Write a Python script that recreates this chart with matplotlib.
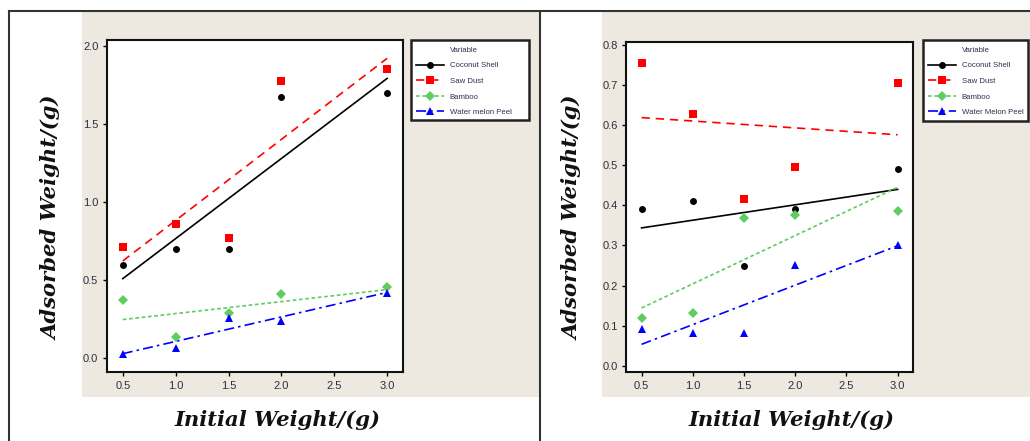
import matplotlib.pyplot as plt
from matplotlib.patches import Rectangle
from matplotlib.lines import Line2D
import numpy as np

x = np.array([0.5, 1.0, 1.5, 2.0, 3.0])
names = ['Coconut Shell', 'Saw Dust', 'Bamboo', 'Water melon Peel']
names_right = ['Coconut Shell', 'Saw Dust', 'Bamboo', 'Water Melon Peel']

# left panel
left_coconut = [0.60, 0.70, 0.70, 1.67, 1.70]
left_sawdust = [0.715, 0.86, 0.77, 1.775, 1.85]
left_bamboo = [0.37, 0.135, 0.29, 0.41, 0.455]
left_melon = [0.03, 0.064, 0.26, 0.24, 0.416]

# right panel
right_coconut = [0.39, 0.41, 0.25, 0.39, 0.49]
right_sawdust = [0.755, 0.627, 0.417, 0.495, 0.705]
right_bamboo = [0.12, 0.131, 0.368, 0.377, 0.387]
right_melon = [0.091, 0.083, 0.083, 0.251, 0.301]

xticks = [0.5, 1.0, 1.5, 2.0, 2.5, 3.0]
left_yticks = [0.0, 0.5, 1.0, 1.5, 2.0]
right_yticks = [0.0, 0.1, 0.2, 0.3, 0.4, 0.5, 0.6, 0.7, 0.8]

colors = ['black', '#ff0000', '#5fcc5f', '#0000ff']
markers = ['o', 's', 'D', '^']
msizes = [5.0, 5.5, 4.6, 5.8]
lstyles = ['-', (0, (5, 3.5)), (0, (2.2, 1.6)), (0, (6, 2.5, 1.5, 2.5))]

beige = '#ede9e0'
tick_col = '#2e2e40'

fig = plt.figure(figsize=(10.30, 4.41), dpi=100)
W, H = 1030.0, 441.0


def fx(px):
    return px / W


def fy(py):
    return 1 - py / H


# outer frames and beige backgrounds
fig.add_artist(Line2D([fx(9), 1], [fy(10.5), fy(10.5)], color='#333333', lw=1.5))
fig.add_artist(Line2D([fx(9), fx(9)], [fy(10.5), 0], color='#333333', lw=1.5))
fig.add_artist(Line2D([fx(540), fx(540)], [fy(10.5), 0], color='#333333', lw=1.5))
fig.add_artist(Rectangle((fx(82), fy(397)), fx(539 - 82), (397 - 12) / H,
                         facecolor=beige, edgecolor='none', zorder=0))
fig.add_artist(Rectangle((fx(602), fy(397)), fx(1030 - 602), (397 - 12) / H,
                         facecolor=beige, edgecolor='none', zorder=0))


def panel(rect, series, labels, ylim, yticks, ylab_x, xlab_x, leg_box):
    ax = fig.add_axes(rect)
    ax.set_facecolor('white')
    handles = []
    for ys, c, m, ms, ls, lab in zip(series, colors, markers, msizes, lstyles, labels):
        ax.plot(x, ys, linestyle='none', marker=m, color=c, markersize=ms,
                markeredgewidth=0, zorder=3)
        k, b = np.polyfit(x, ys, 1)
        ax.plot([x[0], x[-1]], [k * x[0] + b, k * x[-1] + b], color=c,
                linestyle=ls, lw=1.2, zorder=2)
        handles.append(Line2D([], [], color=c, linestyle=ls, lw=1.2, marker=m,
                              markersize=ms, markeredgewidth=0, label=lab))
    ax.set_xlim(0.348, 3.147)
    ax.set_ylim(*ylim)
    ax.set_xticks(xticks)
    ax.set_xticklabels(['%.1f' % t for t in xticks])
    ax.set_yticks(yticks)
    ax.set_yticklabels(['%.1f' % t for t in yticks])
    ax.tick_params(direction='out', length=3, width=1, colors='black',
                   labelcolor=tick_col, labelsize=8, pad=3)
    for lab in ax.get_xticklabels() + ax.get_yticklabels():
        lab.set_family('Liberation Sans')
    for s in ax.spines.values():
        s.set_linewidth(1.5)
        s.set_color('#111111')

    fig.text(fx(ylab_x), fy(218), 'Adsorbed Weight/(g)', rotation=90,
             ha='center', va='center', family='DejaVu Serif', fontsize=15.2,
             fontweight='bold', style='italic', color='#111111')
    fig.text(fx(xlab_x), fy(420), 'Initial Weight/(g)', ha='center',
             va='center', family='DejaVu Serif', fontsize=15.2,
             fontweight='bold', style='italic', color='#111111')

    x0, y0, x1, y1 = leg_box
    fig.add_artist(Rectangle((fx(x0), fy(y1)), fx(x1 - x0), (y1 - y0) / H,
                             facecolor='white', edgecolor='#222222', lw=1.8,
                             zorder=1))
    title = Line2D([], [], linestyle='none', label='Variable')
    leg = fig.legend(handles=[title] + handles, loc='upper left',
                     bbox_to_anchor=(fx(x0 + 1), fy(y0 + 2)),
                     frameon=False, prop={'family': 'Liberation Sans', 'size': 5.6},
                     handlelength=3.5, handletextpad=0.8, labelspacing=1.05,
                     borderpad=0.55, borderaxespad=0)
    for t in leg.get_texts():
        t.set_color('#3a2a4a')
    leg.set_zorder(2)
    return ax


panel([fx(106.7), fy(372.3), fx(402.7 - 106.7), (372.3 - 40) / H],
      [left_coconut, left_sawdust, left_bamboo, left_melon], names,
      (-0.09, 2.038), left_yticks, 52, 278, (411, 40, 529, 120))

panel([fx(626), fy(372.3), fx(912.7 - 626), (372.3 - 42) / H],
      [right_coconut, right_sawdust, right_bamboo, right_melon], names_right,
      (-0.016, 0.807), right_yticks, 573, 791, (923, 40, 1028, 121))

fig.savefig('out.png', dpi=100)
